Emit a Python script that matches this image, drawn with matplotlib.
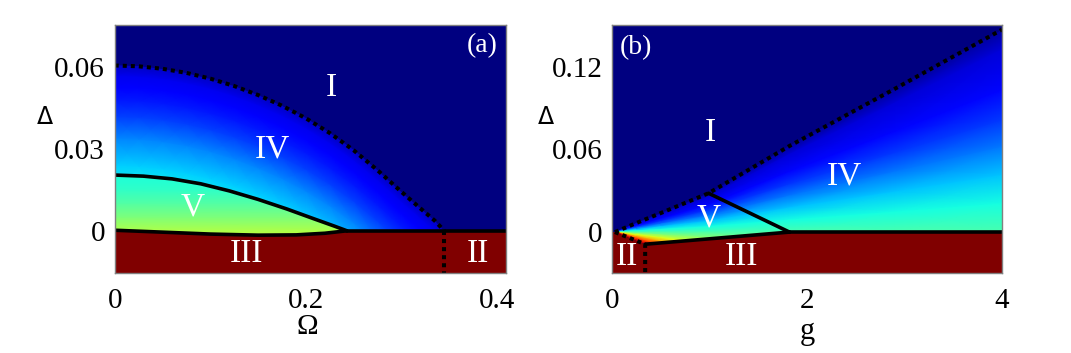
import matplotlib
matplotlib.use("Agg")
import numpy as np
import matplotlib.pyplot as plt
from matplotlib.patches import Polygon

plt.rcParams['font.family'] = ['Liberation Serif', 'DejaVu Serif']

# ---------------- panel (a) data ----------------
a_xlim = (0.0, 0.41)
a_ylim = (-0.01545, 0.0755)
a_xticks = [0.0, 0.2, 0.4]
a_xticklabels = ['0', '0.2', '0.4']
a_yticks = [0.0, 0.03, 0.06]
a_yticklabels = ['0', '0.03', '0.06']

# dotted boundary I / IV
a_dot_x = [0.0, 0.025, 0.05, 0.075, 0.1, 0.125, 0.15, 0.175, 0.2, 0.225, 0.25, 0.275,
           0.3, 0.32, 0.335, 0.345]
a_dot_y = [0.0605, 0.0602, 0.0593, 0.0578, 0.0557, 0.053, 0.0497, 0.0458, 0.0412, 0.0358,
           0.0295, 0.0222, 0.0143, 0.0082, 0.0037, 0.0]
# dotted boundary III / II
a_ii_x = [0.345, 0.345]
a_ii_y = [0.0, -0.01545]
# solid boundary IV / V
a_up_x = [0.0, 0.03, 0.06, 0.09, 0.12, 0.15, 0.18, 0.21, 0.23, 0.243]
a_up_y = [0.0204, 0.0200, 0.0190, 0.0172, 0.0146, 0.0115, 0.0080, 0.0042, 0.0017, 0.0]
# solid boundary V / III
a_lo_x = [0.0, 0.05, 0.1, 0.15, 0.19, 0.22, 0.243]
a_lo_y = [0.0002, -0.0005, -0.0012, -0.0016, -0.0015, -0.0009, 0.0]
# solid boundary IV / III-II
a_zero_x = [0.243, 0.41]
a_zero_y = [0.0, 0.0]
# colour in region IV versus depth below the dotted boundary
a_iv_depth = [0.0, 0.004, 0.008, 0.013, 0.019, 0.027, 0.037, 0.047, 0.06, 0.075]
a_iv_value = [0.06, 0.10, 0.12, 0.15, 0.19, 0.26, 0.33, 0.385, 0.45, 0.5]
# colour in region V versus Delta
a_v_delta = [-0.003, 0.0, 0.005, 0.01, 0.015, 0.021]
a_v_value = [0.58, 0.56, 0.50, 0.45, 0.41, 0.38]
a_labels = ['I', 'IV', 'V', 'III', 'II']
a_label_x = [0.227, 0.165, 0.0814, 0.138, 0.380]
a_label_y = [0.0525, 0.030, 0.0086, -0.0084, -0.0084]

# ---------------- panel (b) data ----------------
b_xlim = (0.0, 4.0)
b_ylim = (-0.0297, 0.1507)
b_xticks = [0, 2, 4]
b_xticklabels = ['0', '2', '4']
b_yticks = [0.0, 0.06, 0.12]
b_yticklabels = ['0', '0.06', '0.12']

b_dot_x = [0.03, 0.25, 0.5, 0.99, 1.82, 2.9, 4.0]
b_dot_y = [0.0, 0.0066, 0.0138, 0.0282, 0.0625, 0.104, 0.147]
b_vr_x = [0.99, 1.82]
b_vr_y = [0.0282, 0.0]
b_lo_x = [0.34, 1.82]
b_lo_y = [-0.0088, 0.0]
b_zero_x = [1.82, 4.0]
b_zero_y = [0.0, 0.0]
b_ii_x = [0.03, 0.34, 0.34]
b_ii_y = [0.0, -0.0088, -0.0297]
# colour versus relative depth (1 - Delta/Delta_dotted)
b_frac = [0.0, 0.1, 0.3, 0.45, 0.58, 0.72, 0.86, 1.0, 1.15, 1.3, 1.5, 1.7, 1.9, 2.3, 3.0]
b_value = [0.03, 0.08, 0.13, 0.18, 0.245, 0.32, 0.375, 0.44, 0.52, 0.62, 0.74, 0.84, 0.93, 0.98, 1.0]
b_labels = ['I', 'IV', 'V', 'III', 'II']
b_label_x = [1.008, 2.385, 0.99, 1.327, 0.156]
b_label_y = [0.0724, 0.0403, 0.0101, -0.0176, -0.0176]

# ---------------- figure ----------------
W, H = 1071, 353
fig = plt.figure(figsize=(W / 100, H / 100), dpi=100)
axa = fig.add_axes([114.7 / W, 1 - 273 / H, 391.7 / W, 248.5 / H])
axb = fig.add_axes([612 / W, 1 - 273 / H, 390 / W, 248.5 / H])

cmap = plt.get_cmap('jet')
navy = cmap(0.0)
dred = cmap(1.0)
DOT = dict(color='black', lw=2.9, linestyle=(0, (1, 1.0)), dash_capstyle='butt', zorder=5)
SOL = dict(color='black', lw=2.6, solid_capstyle='round', solid_joinstyle='round', zorder=5)
TICK_FS = 21
ROMAN_FS = 24
PANEL_FS = 20


def style(ax, xlim, ylim, xt, xtl, yt, ytl):
    ax.set_xlim(xlim)
    ax.set_ylim(ylim)
    ax.set_facecolor(navy)
    ax.set_xticks(xt)
    ax.set_xticklabels(xtl)
    ax.set_yticks(yt)
    ax.set_yticklabels(ytl)
    ax.tick_params(length=0, labelsize=TICK_FS)
    ax.tick_params(axis='x', pad=11)
    ax.tick_params(axis='y', pad=7)
    for s in ax.spines.values():
        s.set_color('#808080')
        s.set_linewidth(1.0)
        s.set_zorder(10)


# ----- panel (a) -----
ax = axa
style(ax, a_xlim, a_ylim, a_xticks, a_xticklabels, a_yticks, a_yticklabels)
dx = np.array(a_dot_x)
dy = np.array(a_dot_y)
dep = np.array(a_iv_depth)
X = np.tile(dx, (len(dep), 1))
Y = dy[None, :] - dep[:, None]
C = np.tile(np.array(a_iv_value)[:, None], (1, len(dx)))
m = ax.pcolormesh(X, Y, C, cmap=cmap, vmin=0, vmax=1, shading='gouraud', zorder=1)
clip = Polygon(list(zip(a_dot_x, a_dot_y)) + [(a_dot_x[-1], 0.0), (a_dot_x[0], 0.0)],
               closed=True, transform=ax.transData)
m.set_clip_path(clip)

vx = np.array([a_up_x[0], a_up_x[-1]])
vd = np.array(a_v_delta)
X = np.tile(vx, (len(vd), 1))
Y = np.tile(vd[:, None], (1, len(vx)))
C = np.tile(np.array(a_v_value)[:, None], (1, len(vx)))
m = ax.pcolormesh(X, Y, C, cmap=cmap, vmin=0, vmax=1, shading='gouraud', zorder=2)
clip = Polygon(list(zip(a_up_x, a_up_y)) + list(zip(a_lo_x, a_lo_y))[::-1],
               closed=True, transform=ax.transData)
m.set_clip_path(clip)

red = Polygon([(a_xlim[0], a_ylim[0])] + list(zip(a_lo_x, a_lo_y)) +
              [(a_xlim[1], 0.0), (a_xlim[1], a_ylim[0])],
              closed=True, facecolor=dred, edgecolor='none', zorder=3)
ax.add_patch(red)

ax.plot(a_dot_x, a_dot_y, **DOT)
ax.plot(a_ii_x, a_ii_y, **DOT)
ax.plot(a_up_x, a_up_y, **SOL)
ax.plot(a_lo_x, a_lo_y, **SOL)
ax.plot(a_zero_x, a_zero_y, **SOL)
for t, x, y in zip(a_labels, a_label_x, a_label_y):
    ax.text(x, y, t, color='white', fontsize=ROMAN_FS, ha='center', va='center', zorder=6)
ax.text(0.385, 0.0677, '(a)', color='white', fontsize=PANEL_FS, ha='center', va='center', zorder=6)

# ----- panel (b) -----
ax = axb
style(ax, b_xlim, b_ylim, b_xticks, b_xticklabels, b_yticks, b_yticklabels)
dx = np.array(b_dot_x)
dy = np.array(b_dot_y)
fr = np.array(b_frac)
X = np.tile(dx, (len(fr), 1))
Y = (1.0 - fr[:, None]) * dy[None, :]
C = np.tile(np.array(b_value)[:, None], (1, len(dx)))
m = ax.pcolormesh(X, Y, C, cmap=cmap, vmin=0, vmax=1, shading='gouraud', zorder=1)
clip = Polygon(list(zip(b_dot_x, b_dot_y)) + [(b_dot_x[-1], 0.0)] +
               list(zip(b_lo_x, b_lo_y))[::-1] + list(zip(b_ii_x[:2], b_ii_y[:2]))[::-1],
               closed=True, transform=ax.transData)
m.set_clip_path(clip)

red = Polygon([(b_xlim[0], 0.0)] + list(zip(b_ii_x[:2], b_ii_y[:2])) + list(zip(b_lo_x, b_lo_y)) +
              [(b_xlim[1], 0.0), (b_xlim[1], b_ylim[0]), (b_xlim[0], b_ylim[0])],
              closed=True, facecolor=dred, edgecolor='none', zorder=3)
ax.add_patch(red)

ax.plot(b_dot_x, b_dot_y, **DOT)
ax.plot(b_ii_x, b_ii_y, **DOT)
ax.plot(b_vr_x, b_vr_y, **SOL)
ax.plot(b_lo_x, b_lo_y, **SOL)
ax.plot(b_zero_x, b_zero_y, **SOL)
for t, x, y in zip(b_labels, b_label_x, b_label_y):
    ax.text(x, y, t, color='white', fontsize=ROMAN_FS, ha='center', va='center', zorder=6)
ax.text(0.245, 0.134, '(b)', color='white', fontsize=PANEL_FS, ha='center', va='center', zorder=6)

# axis labels
fig.text(44.8 / W, 1 - 116.7 / H, 'Δ', family='DejaVu Sans', fontsize=17, ha='center', va='center')
fig.text(545.5 / W, 1 - 117 / H, 'Δ', family='DejaVu Sans', fontsize=17, ha='center', va='center')
fig.text(307 / W, 1 - 327.5 / H, 'Ω', fontsize=21, ha='center', va='center')
fig.text(807 / W, 1 - 331 / H, 'g', fontsize=22, ha='center', va='center')

fig.savefig('out.png', dpi=100)
